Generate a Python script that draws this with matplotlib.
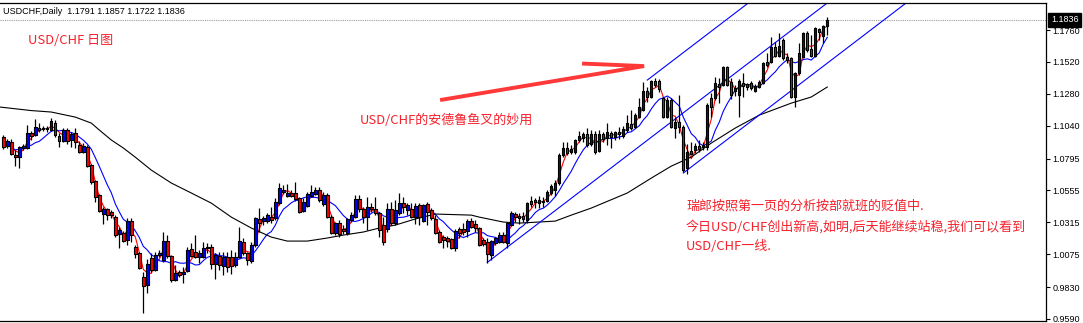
import numpy as np
import pandas as pd
import matplotlib
matplotlib.use("Agg")
import matplotlib.pyplot as plt
import matplotlib.transforms as mtransforms
from matplotlib.patches import Rectangle
from matplotlib.collections import PatchCollection, LineCollection

plt.rcParams['font.family'] = ['Noto Sans CJK SC', 'DejaVu Sans']

symbol = "USDCHF,Daily"

opens = [
    1.0956, 1.0889, 1.0919, 1.0820, 1.0805, 1.0874, 1.0874, 1.0986, 1.0971, 1.1024,
    1.1016, 1.1024, 1.1009, 1.1061, 1.0964, 1.0926, 1.1009, 1.0934, 1.0986, 1.0896,
    1.0843, 1.0881, 1.0745, 1.0625, 1.0520, 1.0378, 1.0415, 1.0393, 1.0355, 1.0228,
    1.0235, 1.0183, 1.0325, 1.0130, 1.0084, 0.9904, 0.9844, 1.0047, 0.9957, 1.0070,
    1.0032, 1.0175, 1.0062, 0.9882, 0.9942, 0.9927, 0.9949, 1.0115, 1.0092, 1.0054,
    1.0054, 1.0123, 1.0130, 1.0002, 1.0062, 0.9987, 1.0054, 1.0054, 0.9995, 1.0054,
    1.0168, 1.0084, 1.0024, 1.0145, 1.0341, 1.0325, 1.0325, 1.0355, 1.0348, 1.0460,
    1.0543, 1.0513, 1.0535, 1.0535, 1.0498, 1.0400, 1.0438, 1.0513, 1.0528, 1.0558,
    1.0453, 1.0520, 1.0355, 1.0235, 1.0310, 1.0265, 1.0235, 1.0333, 1.0355, 1.0490,
    1.0415, 1.0355, 1.0430, 1.0415, 1.0385, 1.0295, 1.0265, 1.0415, 1.0310, 1.0385,
    1.0460, 1.0408, 1.0415, 1.0355, 1.0445, 1.0325, 1.0453, 1.0408, 1.0341, 1.0243,
    1.0205, 1.0198, 1.0190, 1.0123, 1.0265, 1.0265, 1.0250, 1.0325, 1.0303, 1.0273,
    1.0183, 1.0168, 1.0070, 1.0160, 1.0168, 1.0220, 1.0160, 1.0295, 1.0378, 1.0363,
    1.0363, 1.0333, 1.0475, 1.0483, 1.0460, 1.0475, 1.0475, 1.0535, 1.0558, 1.0610,
    1.0820, 1.0874, 1.0843, 1.0843, 1.0934, 1.0949, 1.0979, 1.0904, 1.0979, 1.0851,
    1.0979, 1.0949, 1.0986, 1.0956, 1.0994, 1.0964, 1.1009, 1.1054, 1.1031, 1.1106,
    1.1159, 1.1301, 1.1256, 1.1376, 1.1376, 1.1249, 1.1106, 1.1234, 1.1024, 1.1069,
    1.1031, 1.0723, 1.0851, 1.0858, 1.0889, 1.0881, 1.0881, 1.1249, 1.1249, 1.1354,
    1.1346, 1.1482, 1.1369, 1.1301, 1.1271, 1.1361, 1.1354, 1.1361, 1.1301, 1.1331,
    1.1361, 1.1519, 1.1519, 1.1632, 1.1564, 1.1685, 1.1557, 1.1549, 1.1256, 1.1437,
    1.1557, 1.1737, 1.1617, 1.1564, 1.1767, 1.1715, 1.1791,
]
highs = [
    1.0971, 1.0941, 1.0941, 1.0858, 1.0889, 1.0904, 1.1046, 1.1001, 1.1091, 1.1061,
    1.1039, 1.1039, 1.1099, 1.1084, 1.0986, 1.1024, 1.1024, 1.0994, 1.1024, 1.0926,
    1.0911, 1.0896, 1.0753, 1.0633, 1.0528, 1.0430, 1.0423, 1.0408, 1.0370, 1.0280,
    1.0250, 1.0348, 1.0348, 1.0145, 1.0092, 0.9942, 1.0040, 1.0084, 1.0092, 1.0107,
    1.0243, 1.0220, 1.0070, 0.9995, 0.9957, 0.9980, 1.0130, 1.0160, 1.0220, 1.0107,
    1.0168, 1.0160, 1.0153, 1.0084, 1.0092, 1.0092, 1.0092, 1.0107, 1.0092, 1.0280,
    1.0198, 1.0092, 1.0168, 1.0355, 1.0423, 1.0363, 1.0385, 1.0430, 1.0498, 1.0610,
    1.0595, 1.0603, 1.0558, 1.0618, 1.0505, 1.0498, 1.0543, 1.0595, 1.0580, 1.0580,
    1.0543, 1.0535, 1.0370, 1.0318, 1.0333, 1.0295, 1.0348, 1.0393, 1.0520, 1.0520,
    1.0430, 1.0505, 1.0460, 1.0505, 1.0393, 1.0355, 1.0460, 1.0468, 1.0483, 1.0535,
    1.0505, 1.0460, 1.0460, 1.0460, 1.0460, 1.0453, 1.0468, 1.0423, 1.0370, 1.0258,
    1.0220, 1.0213, 1.0198, 1.0265, 1.0280, 1.0310, 1.0341, 1.0348, 1.0333, 1.0280,
    1.0198, 1.0198, 1.0183, 1.0205, 1.0243, 1.0243, 1.0318, 1.0400, 1.0393, 1.0385,
    1.0393, 1.0468, 1.0513, 1.0498, 1.0513, 1.0505, 1.0558, 1.0603, 1.0633, 1.0835,
    1.0919, 1.0919, 1.0896, 1.0941, 1.1001, 1.0994, 1.1024, 1.1009, 1.1001, 1.1009,
    1.0994, 1.1061, 1.1001, 1.1001, 1.1031, 1.1039, 1.1121, 1.1159, 1.1136, 1.1249,
    1.1369, 1.1331, 1.1384, 1.1399, 1.1391, 1.1256, 1.1256, 1.1249, 1.1106, 1.1271,
    1.1046, 1.0904, 1.0919, 1.0911, 1.0934, 1.0919, 1.1211, 1.1286, 1.1406, 1.1399,
    1.1489, 1.1489, 1.1399, 1.1346, 1.1391, 1.1437, 1.1361, 1.1376, 1.1354, 1.1384,
    1.1519, 1.1587, 1.1707, 1.1670, 1.1737, 1.1700, 1.1587, 1.1557, 1.1444, 1.1662,
    1.1745, 1.1752, 1.1722, 1.1782, 1.1775, 1.1797, 1.1857,
]
lows = [
    1.0866, 1.0874, 1.0820, 1.0738, 1.0723, 1.0858, 1.0866, 1.0934, 1.0964, 1.0994,
    1.1001, 1.0994, 1.1001, 1.0956, 1.0881, 1.0919, 1.0904, 1.0881, 1.0874, 1.0835,
    1.0835, 1.0730, 1.0603, 1.0468, 1.0393, 1.0303, 1.0333, 1.0348, 1.0205, 1.0123,
    1.0168, 1.0145, 1.0168, 1.0047, 0.9964, 0.9634, 0.9784, 0.9942, 0.9949, 1.0054,
    1.0017, 1.0047, 0.9867, 0.9874, 0.9904, 0.9859, 0.9942, 1.0054, 1.0047, 1.0009,
    1.0047, 1.0084, 0.9964, 0.9890, 0.9957, 0.9919, 0.9942, 0.9927, 0.9980, 1.0047,
    1.0070, 0.9995, 1.0009, 1.0130, 1.0243, 1.0295, 1.0310, 1.0310, 1.0333, 1.0445,
    1.0528, 1.0505, 1.0505, 1.0475, 1.0385, 1.0393, 1.0430, 1.0505, 1.0520, 1.0468,
    1.0438, 1.0348, 1.0228, 1.0220, 1.0205, 1.0228, 1.0220, 1.0318, 1.0348, 1.0393,
    1.0310, 1.0258, 1.0393, 1.0370, 1.0205, 1.0145, 1.0243, 1.0295, 1.0295, 1.0370,
    1.0385, 1.0370, 1.0348, 1.0303, 1.0295, 1.0318, 1.0295, 1.0333, 1.0228, 1.0160,
    1.0123, 1.0130, 1.0115, 1.0100, 1.0198, 1.0220, 1.0205, 1.0273, 1.0243, 1.0138,
    1.0138, 1.0009, 1.0032, 1.0145, 1.0160, 1.0160, 1.0123, 1.0288, 1.0318, 1.0303,
    1.0318, 1.0310, 1.0430, 1.0423, 1.0423, 1.0430, 1.0468, 1.0520, 1.0513, 1.0595,
    1.0805, 1.0820, 1.0828, 1.0828, 1.0919, 1.0919, 1.0881, 1.0889, 1.0828, 1.0843,
    1.0919, 1.0896, 1.0874, 1.0934, 1.0941, 1.0949, 1.0994, 1.1009, 1.1024, 1.1099,
    1.1151, 1.1219, 1.1249, 1.1331, 1.1294, 1.1099, 1.1099, 1.1024, 1.0949, 1.0986,
    1.0693, 1.0678, 1.0820, 1.0835, 1.0843, 1.0858, 1.0858, 1.1106, 1.1234, 1.1211,
    1.1339, 1.1339, 1.1241, 1.1264, 1.1106, 1.1256, 1.1309, 1.1309, 1.1294, 1.1324,
    1.1354, 1.1482, 1.1512, 1.1557, 1.1557, 1.1534, 1.1512, 1.1249, 1.1181, 1.1422,
    1.1549, 1.1594, 1.1557, 1.1557, 1.1685, 1.1662, 1.1722,
]
closes = [
    1.0881, 1.0926, 1.0828, 1.0805, 1.0881, 1.0889, 1.0986, 1.0964, 1.1031, 1.1009,
    1.1024, 1.1016, 1.1076, 1.0971, 1.0926, 1.1009, 1.0926, 1.0979, 1.0919, 1.0843,
    1.0889, 1.0738, 1.0618, 1.0505, 1.0400, 1.0415, 1.0370, 1.0370, 1.0220, 1.0258,
    1.0175, 1.0325, 1.0220, 1.0077, 0.9972, 0.9837, 1.0002, 0.9957, 1.0070, 1.0084,
    1.0175, 1.0062, 0.9882, 0.9934, 0.9919, 0.9942, 1.0107, 1.0062, 1.0054, 1.0084,
    1.0123, 1.0130, 1.0002, 1.0070, 0.9995, 1.0054, 0.9980, 0.9987, 1.0054, 1.0175,
    1.0084, 1.0032, 1.0145, 1.0348, 1.0310, 1.0348, 1.0370, 1.0333, 1.0468, 1.0573,
    1.0558, 1.0535, 1.0513, 1.0490, 1.0393, 1.0468, 1.0528, 1.0543, 1.0558, 1.0483,
    1.0520, 1.0355, 1.0235, 1.0310, 1.0228, 1.0250, 1.0341, 1.0370, 1.0490, 1.0415,
    1.0355, 1.0430, 1.0415, 1.0385, 1.0258, 1.0168, 1.0415, 1.0310, 1.0408, 1.0460,
    1.0430, 1.0445, 1.0355, 1.0438, 1.0355, 1.0445, 1.0393, 1.0348, 1.0235, 1.0168,
    1.0183, 1.0175, 1.0123, 1.0250, 1.0235, 1.0243, 1.0325, 1.0280, 1.0273, 1.0145,
    1.0153, 1.0077, 1.0175, 1.0198, 1.0220, 1.0168, 1.0310, 1.0385, 1.0355, 1.0348,
    1.0341, 1.0460, 1.0453, 1.0468, 1.0483, 1.0468, 1.0543, 1.0588, 1.0610, 1.0820,
    1.0874, 1.0835, 1.0866, 1.0934, 1.0964, 1.0979, 1.0896, 1.0979, 1.0843, 1.0979,
    1.0941, 1.0994, 1.0956, 1.0994, 1.0979, 1.1016, 1.1061, 1.1024, 1.1121, 1.1181,
    1.1301, 1.1256, 1.1376, 1.1346, 1.1316, 1.1106, 1.1234, 1.1031, 1.1069, 1.1031,
    1.0708, 1.0843, 1.0828, 1.0889, 1.0866, 1.0896, 1.1196, 1.1181, 1.1361, 1.1331,
    1.1482, 1.1346, 1.1271, 1.1324, 1.1376, 1.1339, 1.1331, 1.1324, 1.1339, 1.1369,
    1.1512, 1.1497, 1.1632, 1.1564, 1.1639, 1.1549, 1.1534, 1.1256, 1.1437, 1.1587,
    1.1737, 1.1609, 1.1564, 1.1775, 1.1745, 1.1790, 1.1836,
]

# long moving average (bar index, value)
slow_ma_bars = [-1, 7, 12, 18, 22, 24, 27, 30, 33, 37, 42, 47, 52, 57, 62, 67, 71, 76,
                81, 85, 90, 94, 98, 103, 108, 117, 119, 125, 129, 138, 142, 147, 156,
                162, 167, 172, 177, 183, 189, 197, 202, 206]
slow_ma_vals = [1.1182, 1.1155, 1.1144, 1.1106, 1.1061, 1.1009, 1.0934, 1.0874, 1.0805,
                1.0708, 1.0611, 1.0536, 1.0460, 1.0355, 1.0273, 1.0205, 1.0175, 1.0175,
                1.0198, 1.0220, 1.0243, 1.0273, 1.0295, 1.0341, 1.0378, 1.0370, 1.0355,
                1.0318, 1.0310, 1.0325, 1.0370, 1.0423, 1.0536, 1.0648, 1.0738, 1.0806,
                1.0911, 1.1024, 1.1121, 1.1211, 1.1257, 1.1332]

# Andrews' pitchfork anchors: handle, upper pivot, lower pivot
fork_bars = [121, 161, 170]
fork_prices = [1.0015, 1.1384, 1.0686]

# hand-drawn red arrow (bar, price): tail, tip, barb end
arrow_bars = [109.2, 160.2, 144.7]
arrow_prices = [1.1234, 1.1489, 1.1508]

price_ticks = [1.1760, 1.1520, 1.1280, 1.1040, 1.0795, 1.0555, 1.0315, 1.0075, 0.9830, 0.9590]

fast_period = 3
mid_period = 8

W, H = 1083, 323
fig = plt.figure(figsize=(W / 100, H / 100), dpi=100)
fig.patch.set_facecolor('white')
ax = fig.add_axes([0, 2 / H, 1045.7 / W, (321 - 2.7) / H])
ax.set_xlim(-0.825, 260.6)
ax.set_ylim(0.95749, 1.19650)

n = len(closes)
idx = np.arange(n)
o = np.array(opens); h = np.array(highs); l = np.array(lows); c = np.array(closes)

# moving averages
cs = pd.Series(closes)
fast_ma = cs.rolling(fast_period, min_periods=1).mean()
mid_ma = cs.rolling(mid_period, min_periods=1).mean()
ax.plot(idx, fast_ma, color='#ff0000', lw=0.8, zorder=2)
ax.plot(idx, mid_ma, color='#0000ff', lw=0.8, zorder=2)
ax.plot(slow_ma_bars, slow_ma_vals, color='black', lw=0.8, zorder=2)

# pitchfork
a_bar, b_bar, c_bar = fork_bars
a_p, b_p, c_p = fork_prices
mid_bar = (b_bar + c_bar) / 2
mid_p = (b_p + c_p) / 2
slope = (mid_p - a_p) / (mid_bar - a_bar)
x_end = 270
for sb, sp in [(a_bar, a_p), (b_bar, b_p), (c_bar, c_p)]:
    ax.plot([sb, x_end], [sp, sp + slope * (x_end - sb)], color='#0000ff', lw=0.8, zorder=2)

# candles
wicks = [[(i, l[i]), (i, h[i])] for i in range(n)]
ax.add_collection(LineCollection(wicks, colors='black', linewidths=0.9, zorder=3))
rects, fcols = [], []
bw = 0.6
for i in range(n):
    lo_b = min(o[i], c[i]); hi_b = max(o[i], c[i])
    rects.append(Rectangle((i - bw / 2, lo_b), bw, max(hi_b - lo_b, 0.00005)))
    fcols.append('#0000ff' if c[i] >= o[i] else '#ff0000')
ax.add_collection(PatchCollection(rects, facecolors=fcols, edgecolors='black',
                                  linewidths=0.8, zorder=4))

# last price line and marker
last = closes[-1]
ax.axhline(last, color='#9a9a9a', lw=0.8, ls=(0, (1, 1)), zorder=1)
trans = mtransforms.blended_transform_factory(ax.transAxes, ax.transData)
ax.text(1051 / 1045.7, last, f"{last:.4f}", transform=trans, color='white',
        fontsize=6.5, family='Liberation Sans', va='center', ha='left', clip_on=False,
        zorder=10, bbox=dict(boxstyle='square,pad=0.3', fc='black', ec='black'))

# red arrow
ax.plot(arrow_bars, arrow_prices, color='#ff3838', lw=2.8, solid_capstyle='butt',
        solid_joinstyle='miter', zorder=5)

# axes styling
ax.spines['left'].set_visible(False)
for side in ['top', 'bottom', 'right']:
    ax.spines[side].set_color('black')
    ax.spines[side].set_linewidth(0.9)
ax.set_xticks([])
ax.yaxis.tick_right()
ax.set_yticks(price_ticks)
ax.set_yticklabels([f"{t:.4f}" for t in price_ticks])
ax.tick_params(axis='y', direction='out', length=3, width=0.8, pad=2,
               labelsize=6.5, colors='black')
for lab in ax.get_yticklabels():
    lab.set_family('Liberation Sans')

# header and notes
fig.text(3 / W, 1 - 11 / H,
         f"{symbol}  {opens[-1]:.4f} {highs[-1]:.4f} {lows[-1]:.4f} {closes[-1]:.4f}",
         fontsize=6.5, family='Liberation Sans', va='center', ha='left', color='black')

red = '#f5222d'
fig.text(28 / W, 1 - 41 / H, "USD/CHF 日图", fontsize=9.4, color=red, va='center', ha='left')
fig.text(360 / W, 1 - 120 / H, "USD/CHF的安德鲁鱼叉的妙用", fontsize=9.4, color=red,
         va='center', ha='left')
notes = ["瑞郎按照第一页的分析按部就班的贬值中.",
         "今日USD/CHF创出新高,如明,后天能继续站稳,我们可以看到",
         "USD/CHF一线."]
for k, line in enumerate(notes):
    fig.text(686 / W, 1 - (206 + 20.5 * k) / H, line, fontsize=9.4, color=red,
             va='center', ha='left')

fig.savefig('out.png', dpi=100, facecolor='white')
